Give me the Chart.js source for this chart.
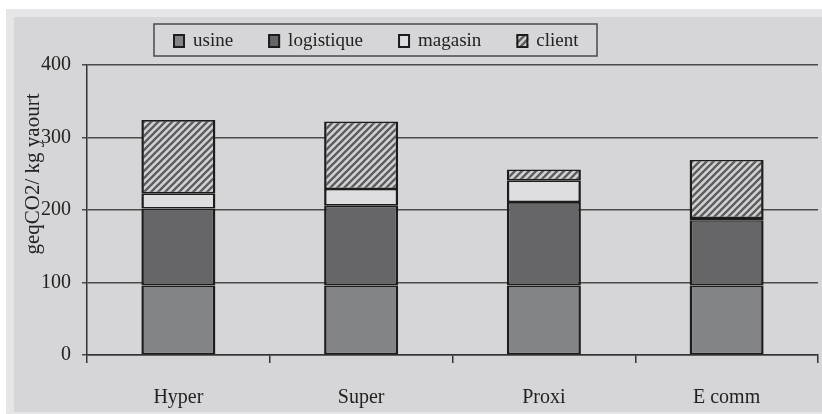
<!DOCTYPE html>
<html>
<head>
<meta charset="utf-8">
<script src="https://cdn.jsdelivr.net/npm/chart.js@4/dist/chart.umd.min.js"></script>
<style>
  html, body { margin: 0; padding: 0; background: #ffffff; }
  #wrap { position: relative; width: 822px; height: 414px; overflow: hidden; }
  #outer { position: absolute; left: 6px; top: 9px; width: 816px; height: 405px; background: #e6e6e8; }
  #inner { position: absolute; left: 14px; top: 17px; width: 808px; height: 395px; background: #d6d6d8; }
  canvas { position: absolute; left: 0; top: 0; }
</style>
</head>
<body>
<div id="wrap">
  <div id="outer"></div>
  <div id="inner"></div>
  <canvas id="c" width="822" height="414"></canvas>
</div>
<script>
const categories = ['Hyper', 'Super', 'Proxi', 'E comm'];
const usine = [96, 96, 96, 96];
const logistique = [106, 110, 115, 90];
const magasin = [21, 23, 30, 3];
const client = [101, 93, 15, 80];
const yTicks = [0, 100, 200, 300, 400];
const yTitle = 'geqCO2/ kg yaourt';

const FONT = '"Liberation Serif", "Times New Roman", serif';

function makeHatch() {
  const s = 7;
  const pc = document.createElement('canvas');
  pc.width = s; pc.height = s;
  const p = pc.getContext('2d');
  p.fillStyle = '#d2d2d4';
  p.fillRect(0, 0, s, s);
  p.strokeStyle = '#5c5c5e';
  p.lineWidth = 2.3;
  p.beginPath();
  p.moveTo(-1, s + 1); p.lineTo(s + 1, -1);
  p.moveTo(-2, 2); p.lineTo(2, -2);
  p.moveTo(s - 2, s + 2); p.lineTo(s + 2, s - 2);
  p.stroke();
  return p.createPattern(pc, 'repeat');
}
const ctx = document.getElementById('c').getContext('2d');
const hatch = makeHatch();

const bw = { left: 2.5, right: 2.5, top: 1.6, bottom: 1.6 };
const common = { borderColor: '#1c1c1c', borderWidth: bw, borderSkipped: false, barPercentage: 0.405, categoryPercentage: 1 };

const customLegend = {
  id: 'customLegend',
  afterDraw(chart) {
    const c = chart.ctx;
    c.save();
    c.strokeStyle = '#4a4a4a';
    c.lineWidth = 1.5;
    c.strokeRect(154, 24, 443, 32);
    c.font = '19px ' + FONT;
    c.textBaseline = 'middle';
    c.fillStyle = '#222';
    let x = 173;
    const cy = 41;
    chart.data.datasets.forEach(ds => {
      c.fillStyle = ds.backgroundColor;
      c.fillRect(x, cy - 7, 12, 14);
      c.strokeStyle = '#1c1c1c';
      c.lineWidth = 2;
      c.strokeRect(x + 1, cy - 6, 10, 12);
      c.fillStyle = '#222';
      c.textAlign = 'left';
      c.fillText(ds.label, x + 20, cy);
      x += 20 + c.measureText(ds.label).width + 35;
    });
    // y axis title
    c.translate(33, 174);
    c.rotate(-Math.PI / 2);
    c.textAlign = 'center';
    c.font = '21px ' + FONT;
    c.fillStyle = '#222';
    c.fillText(yTitle, 0, 0);
    c.restore();
  }
};

new Chart(ctx, {
  type: 'bar',
  data: {
    labels: categories,
    datasets: [
      Object.assign({ label: 'usine', data: usine, backgroundColor: '#838486' }, common),
      Object.assign({ label: 'logistique', data: logistique, backgroundColor: '#666668' }, common),
      Object.assign({ label: 'magasin', data: magasin, backgroundColor: '#dedee0' }, common),
      Object.assign({ label: 'client', data: client, backgroundColor: hatch }, common)
    ]
  },
  options: {
    responsive: false,
    animation: false,
    devicePixelRatio: 1,
    layout: { padding: { top: 65, left: 0, right: 4, bottom: 0 } },
    plugins: { legend: { display: false }, tooltip: { enabled: false }, title: { display: false } },
    scales: {
      x: {
        stacked: true,
        afterFit(s) { s.height = 59; },
        border: { display: true, color: '#333', width: 1.5 },
        grid: { display: true, offset: true, drawOnChartArea: false, drawTicks: true, tickLength: 8, color: '#333', lineWidth: 1.5 },
        ticks: { color: '#222', font: { family: FONT, size: 20 }, padding: 23 }
      },
      y: {
        stacked: true,
        min: 0, max: 400,
        afterFit(s) { s.width = 87; },
        afterBuildTicks(s) { s.ticks = yTicks.map(v => ({ value: v })); },
        border: { display: true, color: '#333', width: 1.5 },
        grid: { display: true, color: '#4a4a4a', lineWidth: 1.5, tickLength: 5, drawTicks: true },
        ticks: { color: '#222', font: { family: FONT, size: 20 }, padding: 11 }
      }
    }
  },
  plugins: [customLegend]
});
</script>
</body>
</html>
